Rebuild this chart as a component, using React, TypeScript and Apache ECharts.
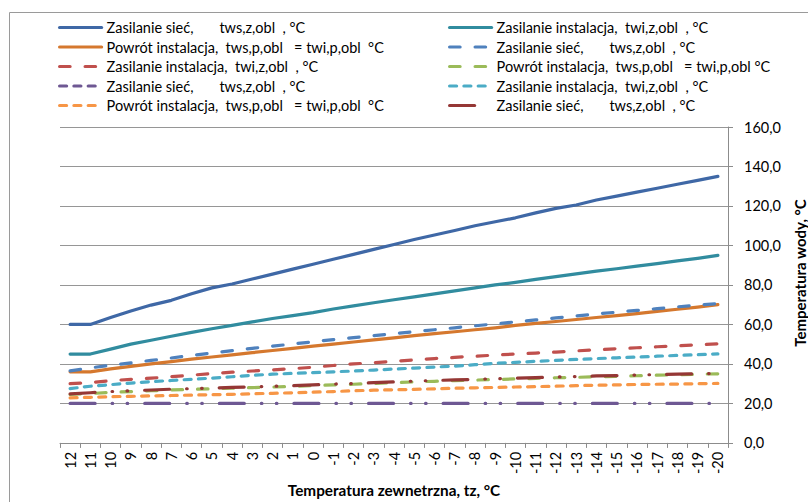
import { useEffect, useRef } from 'react';
import * as echarts from 'echarts';

const categories = ['12','11','10','9','8','7','6','5','4','3','2','1','0','-1','-2','-3','-4','-5','-6','-7','-8','-9','-10','-11','-12','-13','-14','-15','-16','-17','-18','-19','-20'];

const sietSolid = [60,60,63.5,66.8,69.8,72.2,75.5,78.5,80.5,83,85.5,88,90.5,93,95.5,98,100.5,103,105.3,107.6,110,112,114,116.5,118.8,120.5,123,125,127,129,131,133,135];
const instSolid = [45,45,47.5,50,52,54,56,57.8,59.5,61.3,63,64.5,66,67.8,69.4,71,72.5,74,75.5,77,78.5,80,81.3,82.8,84.2,85.6,87,88.2,89.5,90.8,92.2,93.5,95];
const powrotSolid = [36,36,37.5,38.8,40,41.2,42.4,43.5,44.6,45.7,46.8,47.9,49,50,51.1,52.2,53.2,54.3,55.3,56.3,57.3,58.3,59.5,60.5,61.5,62.5,63.5,64.5,65.5,66.6,67.7,68.8,70];
const sietDash = [36.5,38,39.3,40.5,41.8,43,44.3,45.5,46.7,47.9,49,50.1,51.2,52.3,53.3,54.3,55.3,56.3,57.3,58.3,59.3,60.3,61.3,62.3,63.3,64.3,65.3,66.2,67.1,68,68.9,69.8,70.5];
const instDash = [30,30.5,31.5,32.2,32.8,33.5,34.3,35.1,35.8,36.4,37,37.6,38.3,39.2,40,40.6,41.3,42,42.7,43.3,43.9,44.5,45,45.5,46,46.6,47.2,47.7,48.2,48.7,49.2,49.7,50.2];
const powrotDash = [24.5,25,25.6,26,26.4,26.8,27.1,27.4,27.7,28,28.3,28.6,29,29.4,29.7,30.1,30.5,30.9,31.2,31.5,31.8,32.1,32.4,32.7,33,33.2,33.5,33.7,34,34.3,34.5,34.8,35];
const sietShort = [20,20,20,20,20,20,20,20,20,20,20,20,20,20,20,20,20,20,20,20,20,20,20,20,20,20,20,20,20,20,20,20,20];
const instShort = [27.5,28.7,29.5,30.3,31,31.6,32.2,32.8,33.5,34.2,34.8,35.2,35.6,36,36.4,36.9,37.4,37.9,38.4,38.9,39.6,40.3,40.8,41.3,41.8,42.3,42.7,43.1,43.5,43.9,44.3,44.7,45.1];
const powrotShort = [22.8,23.1,23.4,23.6,23.8,24,24.2,24.4,24.6,24.9,25.1,25.4,25.7,26,26.4,26.7,26.9,27.1,27.4,27.7,27.9,28.1,28.3,28.5,28.7,29,29.2,29.4,29.6,29.7,29.8,30,30.1];
const sietDashDot = [24.8,25.4,26,26.4,26.8,27.2,27.5,27.8,28.1,28.4,28.7,29,29.4,29.8,30.1,30.5,30.9,31.3,31.6,31.9,32.2,32.5,32.8,33.1,33.4,33.6,33.9,34.1,34.4,34.6,34.8,35,35.2];

const yTicks = [0, 20, 40, 60, 80, 100, 120, 140, 160];

const S = '\u00a0';
const labelSiec = `Zasilanie sieć,${S.repeat(7)}tws,z,obl${S}${S}, °C`;
const labelPowrot = `Powrót instalacja,${S}${S}tws,p,obl${S}${S}${S}= twi,p,obl${S}${S}°C`;
const labelPowrot2 = `Powrót instalacja,${S}${S}tws,p,obl${S}${S}${S}= twi,p,obl °C`;
const labelInst = `Zasilanie instalacja,${S}${S}twi,z,obl${S}${S}, °C`;

const seriesIds = ['s1','s2','s3','s4','s5','s6','s7','s8','s9','s10'];
const seriesLabels = [labelSiec, labelInst, labelPowrot, labelSiec, labelInst, labelPowrot2, labelSiec, labelInst, labelPowrot, labelSiec];
const seriesData = [sietSolid, instSolid, powrotSolid, sietDash, instDash, powrotDash, sietShort, instShort, powrotShort, sietDashDot];
const seriesColors = ['#3F68A6','#318C9F','#D5782E','#4F81BD','#C0504D','#9BBB59','#6E5893','#4BACC6','#F79646','#953735'];

const longDash: any = [10.5, 15];
const shortDash: any = [7, 7.3];
const dashDotDot: any = [25, 17, 0.6, 14.4, 0.6, 17];
const seriesDash: any[] = ['solid','solid','solid',longDash,longDash,longDash,dashDotDot,shortDash,shortDash,dashDotDot];

export default function App() {
  const ref = useRef<HTMLDivElement>(null);
  useEffect(() => {
    document.body.style.margin = '0';
    const chart = echarts.init(ref.current!, null, { renderer: 'svg' });
    const font = 'Lato';
    const labelMap: Record<string, string> = {};
    seriesIds.forEach((id, i) => { labelMap[id] = seriesLabels[i]; });
    const legendCommon = {
      orient: 'vertical',
      top: 20,
      itemWidth: 42,
      itemHeight: 14,
      itemGap: 4.5,
      padding: 0,
      itemStyle: { opacity: 0 },
      lineStyle: { width: 3.2, cap: 'round' },
      textStyle: { fontFamily: font, fontSize: 14.5, color: '#000' },
      formatter: (name: string) => labelMap[name],
      selectedMode: false,
    };
    chart.setOption({
      animation: false,
      backgroundColor: '#fff',
      graphic: [
        { type: 'rect', shape: { x: 9.5, y: 12.5, width: 900, height: 600 }, style: { fill: 'none', stroke: '#9a9a9a', lineWidth: 1 }, silent: true },
        { type: 'text', x: 800, y: 273, rotation: Math.PI / 2, style: { text: 'Temperatura wody, °C', fontFamily: font, fontSize: 15, fontWeight: 'bold', fill: '#000', align: 'center', verticalAlign: 'middle' } },
      ],
      legend: [
        { ...legendCommon, left: 58, data: ['s1','s3','s5',{ name: 's7', lineStyle: { type: shortDash } },'s9'] },
        { ...legendCommon, left: 448, data: ['s2','s4','s6','s8','s10'] },
      ],
      grid: { left: 60, right: 80, top: 127, bottom: 45, containLabel: false },
      xAxis: {
        type: 'category',
        data: categories,
        boundaryGap: true,
        name: 'Temperatura zewnetrzna, tz, °C',
        nameLocation: 'middle',
        nameGap: 38,
        nameTextStyle: { fontFamily: font, fontSize: 15.3, fontWeight: 'bold', color: '#000' },
        axisLine: { show: true, lineStyle: { color: '#8c8c8c', width: 1 } },
        axisTick: { show: true, alignWithLabel: false, interval: 0, length: 5, lineStyle: { color: '#8c8c8c' } },
        axisLabel: { interval: 0, rotate: 90, margin: 9, fontFamily: font, fontSize: 14.5, color: '#000' },
        splitLine: { show: false },
      },
      yAxis: {
        type: 'value',
        position: 'right',
        min: yTicks[0],
        max: yTicks[yTicks.length - 1],
        interval: 20,
        axisLine: { show: true, lineStyle: { color: '#8c8c8c', width: 1 } },
        axisTick: { show: true, length: 5, lineStyle: { color: '#8c8c8c' } },
        axisLabel: { margin: 16, fontFamily: font, fontSize: 14.5, color: '#000', formatter: (v: number) => v.toFixed(1).replace('.', ',') },
        splitLine: { show: true, lineStyle: { color: '#969696', width: 1 } },
      },
      series: seriesIds.map((id, i) => ({
        type: 'line',
        name: id,
        data: seriesData[i],
        symbol: 'none',
        showSymbol: false,
        smooth: false,
        color: seriesColors[i],
        lineStyle: { color: seriesColors[i], width: 3.2, type: seriesDash[i], cap: 'round', join: 'round' },
        emphasis: { disabled: true },
      })),
    });
    return () => chart.dispose();
  }, []);
  return <div ref={ref} style={{ width: 808, height: 502 }} />;
}
